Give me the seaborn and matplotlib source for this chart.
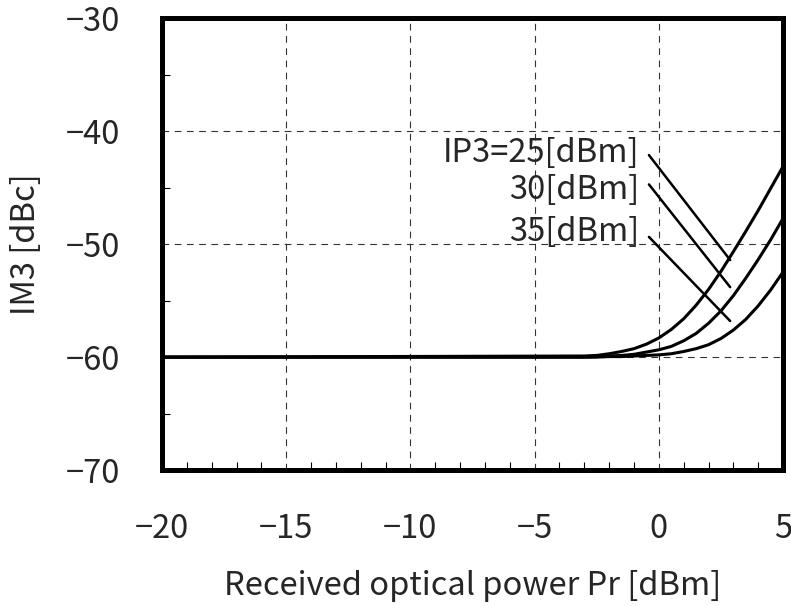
import matplotlib
matplotlib.use("Agg")
import matplotlib.pyplot as plt
from matplotlib.ticker import MultipleLocator
import seaborn as sns
import pandas as pd

# ---- data ----
pr = [-20, -3, -2.5, -2, -1.5, -1, -0.5, 0, 0.5, 1, 1.5, 2, 2.5, 3, 3.5, 4, 4.5, 5]
im3_25 = [-60.0, -59.9, -59.85, -59.7, -59.5, -59.25, -58.85, -58.3, -57.55, -56.6,
          -55.4, -54.0, -52.4, -50.65, -48.85, -47.0, -45.05, -43.1]
im3_30 = [-60.0, -60.0, -59.95, -59.9, -59.85, -59.75, -59.55, -59.35, -59.05, -58.55,
          -57.9, -57.0, -55.9, -54.55, -53.0, -51.35, -49.6, -47.7]
im3_35 = [-60.0, -60.0, -60.0, -59.95, -59.95, -59.9, -59.85, -59.8, -59.7, -59.5,
          -59.25, -58.9, -58.35, -57.6, -56.65, -55.45, -54.05, -52.45]
series_labels = ["IP3=25[dBm]", "30[dBm]", "35[dBm]"]
x_ticks = [-20, -15, -10, -5, 0, 5]
y_ticks = [-70, -60, -50, -40, -30]

df = pd.concat([
    pd.DataFrame({"Pr": pr, "IM3": v, "IP3": lab})
    for v, lab in zip([im3_25, im3_30, im3_35], series_labels)
])

sns.set_style("ticks")
plt.rcParams["font.family"] = ["Noto Sans CJK JP", "DejaVu Sans"]
plt.rcParams["axes.unicode_minus"] = True

FS = 23.5

fig = plt.figure(figsize=(7.91, 6.06), dpi=100)
ax = fig.add_axes([0.2048, 0.2244, 0.7852, 0.7451])

sns.lineplot(data=df, x="Pr", y="IM3", units="IP3", estimator=None,
             color="black", linewidth=2.2, ax=ax, legend=False)

ax.set_xlim(-20, 5)
ax.set_ylim(-70, -30)
ax.set_xticks(x_ticks)
ax.set_yticks(y_ticks)
ax.xaxis.set_minor_locator(MultipleLocator(1))
ax.yaxis.set_minor_locator(MultipleLocator(5))

ax.grid(which="major", linestyle=(0, (6, 5)), color="#333333", linewidth=0.8)
for s in ax.spines.values():
    s.set_visible(True)
    s.set_linewidth(3.6)
    s.set_color("black")

ax.tick_params(which="major", direction="in", length=0, labelsize=FS, pad=30)
ax.tick_params(axis="x", which="major", pad=31)
ax.tick_params(which="minor", direction="in", length=6, width=0.8, color="black")
ax.tick_params(top=False, right=False)

ax.set_xlabel("Received optical power Pr [dBm]", fontsize=FS, labelpad=18)
ax.set_ylabel("IM3 [dBc]", fontsize=FS, labelpad=17)

# annotation labels and leader lines
label_y = [-41.9, -45.2, -48.9]
line_start = [(-0.4, -42.1), (-0.4, -44.7), (-0.4, -49.35)]
line_end = [(2.87, -51.4), (2.87, -53.8), (2.87, -56.8)]
for lab, ly, st, en in zip(series_labels, label_y, line_start, line_end):
    ax.text(-0.8, ly, lab, ha="right", va="center", fontsize=FS)
    ax.annotate("", xy=en, xytext=st,
                arrowprops=dict(arrowstyle="-", color="black", lw=1.8,
                                shrinkA=0, shrinkB=0))

fig.savefig("out.png", dpi=100)
